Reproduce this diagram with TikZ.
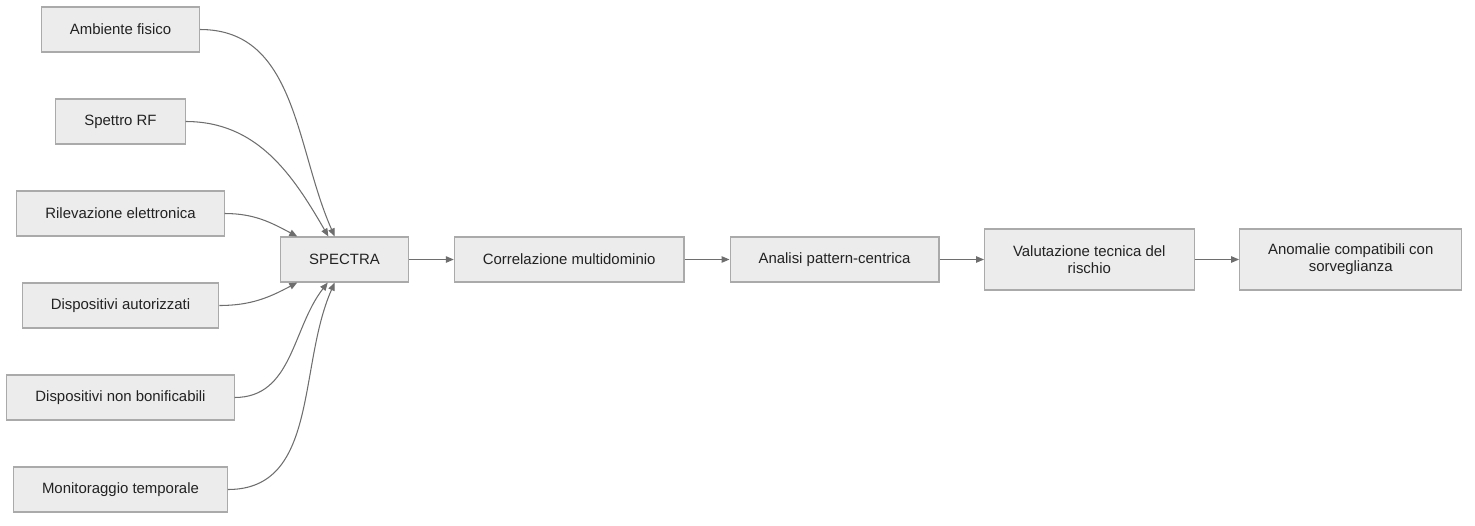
\documentclass[tikz,border=0pt]{standalone}
\usepackage{fontspec}
\setmainfont{Liberation Sans}
\usetikzlibrary{arrows.meta,positioning}
\definecolor{specFill}{RGB}{236,236,236}
\definecolor{specEdge}{RGB}{170,170,170}
\definecolor{specLine}{RGB}{110,110,110}
\definecolor{specText}{RGB}{34,34,34}

\begin{document}
\begin{tikzpicture}[
    stage/.style={rectangle, draw=specEdge, fill=specFill, line width=0.6pt,
                  minimum height=9mm, inner xsep=5.7mm, inner ysep=2pt,
                  font=\fontsize{8.5}{9.8}\selectfont, text=specText, align=center},
    tall/.style={stage, minimum height=12.2mm},
    flow/.style={draw=specLine, line width=0.6pt, -{Triangle[length=1.6mm,width=1.3mm]}}
  ]
  \useasboundingbox (0,0) rectangle (29.5,-10.5);
  % sorgenti
  \node[stage] (amb)  at (2.41,-0.59) {Ambiente fisico};
  \node[stage] (rf)   at (2.41,-2.43) {Spettro RF};
  \node[stage] (ril)  at (2.41,-4.27) {Rilevazione elettronica};
  \node[stage] (aut)  at (2.41,-6.11) {Dispositivi autorizzati};
  \node[stage] (nbon) at (2.41,-7.95) {Dispositivi non bonificabili};
  \node[stage] (mon)  at (2.41,-9.79) {Monitoraggio temporale};
  % catena
  \node[stage] (spectra) at (6.89,-5.19) {SPECTRA};
  \node[stage, right=0.9cm of spectra] (corr) {Correlazione multidominio};
  \node[stage, right=0.9cm of corr] (anal) {Analisi pattern-centrica};
  \node[tall, right=0.89cm of anal] (valut) {Valutazione tecnica del\\rischio};
  \node[tall, right=0.89cm of valut] (anom) {Anomalie compatibili con\\sorveglianza};

  \draw[flow] (amb.east)  to[out=0, in=114] (spectra.113);
  \draw[flow] (rf.east)   to[out=0, in=120] (spectra.125);
  \draw[flow] (ril.east)  to[out=0, in=152] (spectra.154);
  \draw[flow] (aut.east)  to[out=0, in=208] (spectra.206);
  \draw[flow] (nbon.east) to[out=0, in=232] (spectra.234);
  \draw[flow] (mon.east)  to[out=0, in=246] (spectra.247);

  \draw[flow] (spectra) -- (corr);
  \draw[flow] (corr) -- (anal);
  \draw[flow] (anal) -- (valut);
  \draw[flow] (valut) -- (anom);
\end{tikzpicture}
\end{document}
